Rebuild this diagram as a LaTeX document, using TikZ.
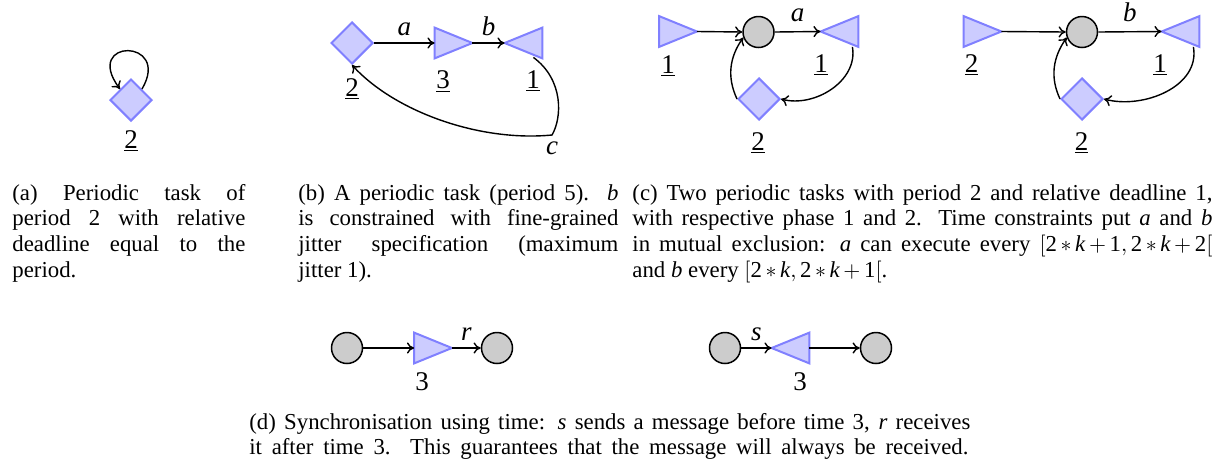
\documentclass[tikz,border=0pt]{standalone}
\usepackage{fontspec}
\setmainfont{Liberation Serif}
\usetikzlibrary{shapes.geometric,arrows.meta,calc}
\newcommand\tn[1]{\mbox{#1}}
\tikzset{
  dia/.style={diamond, draw=blue!50, fill=blue!20, line width=1pt, minimum size=21pt, inner sep=0pt},
  circ/.style={circle, draw=black, fill=gray!40, line width=0.75pt, minimum size=15.5pt, inner sep=0pt},
  tribox/.style={rectangle, minimum width=18.5pt, minimum height=15pt, inner sep=0pt},
  trishape/.style={draw=blue!50, fill=blue!20, line width=1pt},
  conn/.style={-{To[length=3.6pt,width=5.6pt]}, line width=0.7pt},
  lbl/.style={font=\fontsize{13.5}{16}\selectfont, inner sep=0pt},
  elbl/.style={font=\fontsize{13.5}{16}\selectfont},
  captxt/.style={font=\fontsize{11.4}{12.9}\selectfont, inner sep=0pt, anchor=base west,
    execute at begin node={\spaceskip=0pt\xspaceskip=0pt\parindent=0pt\medmuskip=3mu\thickmuskip=4mu}},
}
\begin{document}
\begin{tikzpicture}[x=0.5pt,y=-0.5pt]
\useasboundingbox (0,0) rectangle (1224,467);

% (a)
\node[dia] (da) at (131,100) {};
\draw[conn] (da.north east) .. controls (172,38) and (82,38) .. (da.north west);
\node[lbl, anchor=base] (la) at (131,148) {\underline{2}};

% (b)
\node[dia] (db) at (352,43) {};
\node[tribox] (tb3) at (453.5,43) {};
\draw[trishape] (tb3.north west) -- (tb3.east) -- (tb3.south west) -- cycle;
\node[tribox] (tb1) at (523.5,43) {};
\draw[trishape] (tb1.north east) -- (tb1.west) -- (tb1.south east) -- cycle;
\draw[conn] (db.east) -- node[elbl, above] (lba) {\textit{a}} (tb3.west);
\draw[conn] (tb3.east) -- node[elbl, above] (lbb) {\textit{b}} (tb1.west);
\coordinate (bc) at (552,135);
\coordinate (bs) at ($(tb1.south east)+(-9,-1)$);
\draw[conn] (bs) .. controls (564,80) and (562,118) .. (bc)
  .. controls (480,142) and (395,112) .. (db.south);
\node[elbl, below] (lbc) at (bc) {\textit{c}};
\node[lbl, anchor=base] (lb2) at (352,96) {\underline{2}};
\node[lbl, anchor=base] (lb3) at (443,88) {\underline{3}};
\node[lbl, anchor=base] (lb1) at (533,88) {\underline{1}};

% (c) left
\node[tribox] (tcl1) at (678,31.5) {};
\draw[trishape] (tcl1.north west) -- (tcl1.east) -- (tcl1.south west) -- cycle;
\node[circ] (ccl) at (758.5,32) {};
\node[tribox] (tcl2) at (839.5,31.5) {};
\draw[trishape] (tcl2.north east) -- (tcl2.west) -- (tcl2.south east) -- cycle;
\node[dia] (dcl) at (759,99) {};
\draw[conn] (tcl1.east) -- (ccl.west);
\draw[conn] (ccl.east) -- node[elbl, above=1.5pt] (lca) {\textit{a}} (tcl2.west);
\coordinate (csl) at ($(tcl2.south east)+(-6,0)$);
\draw[conn] (csl) to[out=-80, in=-15] (dcl.east);
\draw[conn] (dcl.west) to[out=115, in=235] (ccl.200);
\node[lbl, anchor=base] (lc1) at (668,73) {\underline{1}};
\node[lbl, anchor=base] (lc2) at (821,72) {\underline{1}};
\node[lbl, anchor=base] (lc3) at (758,150) {\underline{2}};

% (c) right
\node[tribox] (tcr1) at (982.5,31.5) {};
\draw[trishape] (tcr1.north west) -- (tcr1.east) -- (tcr1.south west) -- cycle;
\node[circ] (ccr) at (1082,32) {};
\node[tribox] (tcr2) at (1180.5,31.5) {};
\draw[trishape] (tcr2.north east) -- (tcr2.west) -- (tcr2.south east) -- cycle;
\node[dia] (dcr) at (1082,99) {};
\draw[conn] (tcr1.east) -- (ccr.west);
\draw[conn] (ccr.east) -- node[elbl, above=1.5pt] (lcb) {\textit{b}} (tcr2.west);
\coordinate (csr) at ($(tcr2.south east)+(-6,0)$);
\draw[conn] (csr) to[out=-80, in=-15] (dcr.east);
\draw[conn] (dcr.west) to[out=115, in=235] (ccr.200);
\node[lbl, anchor=base] (lc4) at (971.5,72) {\underline{2}};
\node[lbl, anchor=base] (lc5) at (1160,72) {\underline{1}};
\node[lbl, anchor=base] (lc6) at (1081.5,150) {\underline{2}};

% (d)
\node[circ] (d1) at (347,348) {};
\node[tribox] (d2) at (433,348) {};
\draw[trishape] (d2.north west) -- (d2.east) -- (d2.south west) -- cycle;
\node[circ] (d3) at (497,348) {};
\draw[conn] (d1.east) -- (d2.west);
\draw[conn] (d2.east) -- node[elbl, above] (lr) {\textit{r}} (d3.west);
\node[lbl, anchor=base] (ld1) at (422,390) {3};

\node[circ] (d4) at (725,348) {};
\node[tribox] (d5) at (790.5,348) {};
\draw[trishape] (d5.north east) -- (d5.west) -- (d5.south east) -- cycle;
\node[circ] (d6) at (876,348) {};
\draw[conn] (d4.east) -- node[elbl, above] (ls) {\textit{s}} (d5.west);
\draw[conn] (d5.east) -- (d6.west);
\node[lbl, anchor=base] (ld2) at (800,390) {3};

% captions
\node[captxt, text width=116.5pt] (capa) at (12,200) {%
\makebox[116.5pt][s]{(a) Periodic task of}\\
\makebox[116.5pt][s]{period 2 with relative}\\
\makebox[116.5pt][s]{deadline equal to the}\\
period.};
\node[captxt, text width=160pt] (capb) at (298,200) {%
\makebox[160pt][s]{(b) A periodic task (period 5). \textit{b}}\\
\makebox[160pt][s]{is constrained with fine-grained}\\
\makebox[160pt][s]{jitter specification (maximum}\\
jitter 1).};
\node[captxt, text width=290pt] (capc) at (632,200) {%
\makebox[290pt][s]{(c) Two periodic tasks with period 2 and relative deadline 1,}\\
\makebox[290pt][s]{with respective phase 1 and 2. Time constraints put \textit{a} and \textit{b}}\\
\makebox[290pt][s]{in mutual exclusion: \textit{a} can execute every $[\tn{2}*\textit{k}+\tn{1},\tn{2}*\textit{k}+\tn{2}[$}\\
and \textit{b} every $[\tn{2}*\textit{k},\tn{2}*\textit{k}+\tn{1}[$.};
\node[captxt, text width=360.5pt] (capd) at (249,429) {%
\makebox[360.5pt][s]{(d) Synchronisation using time: \textit{s} sends a message before time 3, \textit{r} receives}\\
\makebox[359.5pt][s]{it after time 3. This guarantees that the message will always be received.}};
\end{tikzpicture}
\end{document}
